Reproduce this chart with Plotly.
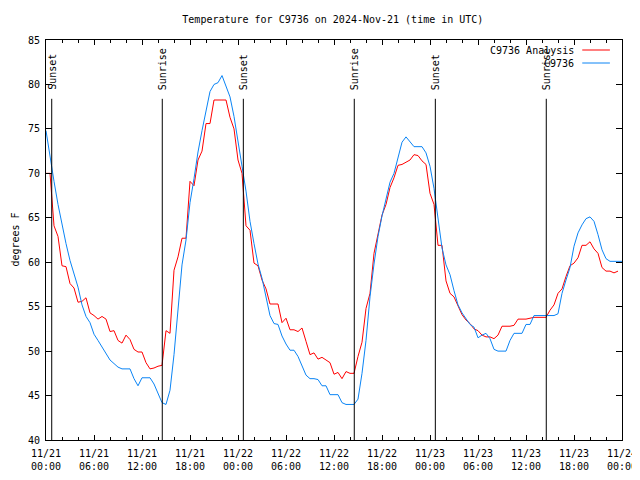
import pandas as pd
import plotly.graph_objects as go

# ---- data ----
start_time = "2024-11-21 00:00"
step = "30min"

obs_temp = [
    74.8, 71.8, 69.1, 66.5, 64.1, 62.1, 60.2, 58.6, 57.2, 55.2,
    53.9, 53.2, 51.9, 51.2, 50.5, 49.8, 49.0, 48.6, 48.2, 48.0,
    48.0, 48.0, 46.9, 46.1, 47.0, 47.0, 47.0, 46.3, 45.3, 44.2,
    44.0, 45.6, 49.6, 55.0, 59.7, 62.5, 66.7, 69.4, 72.4, 74.8,
    77.1, 79.2, 80.0, 80.2, 81.0, 79.7, 78.6, 76.4, 73.4, 70.8,
    68.0, 64.6, 62.1, 59.8, 58.2, 56.1, 54.0, 53.1, 53.0, 51.7,
    50.8, 50.1, 50.1, 49.4, 48.3, 47.3, 46.9, 46.9, 46.8, 46.1,
    46.1, 45.1, 45.1, 45.1, 44.2, 44.0, 44.0, 44.0, 44.6, 47.5,
    51.2, 56.1, 59.8, 62.9, 65.2, 67.0, 69.0, 70.0, 71.9, 73.5,
    74.1, 73.6, 73.0, 73.0, 73.0, 72.3, 70.8, 68.3, 64.8, 61.6,
    59.7, 58.6, 56.8, 55.2, 54.3, 53.6, 53.0, 52.7, 51.5, 51.8,
    52.0, 51.4, 50.2, 50.0, 50.0, 50.0, 51.2, 52.0, 52.0, 52.0,
    53.0, 53.0, 54.0, 54.0, 54.0, 54.0, 54.0, 54.0, 54.2, 56.5,
    58.0, 59.4, 61.8, 63.3, 64.2, 64.9, 65.1, 64.6, 63.1, 61.4,
    60.4, 60.1, 60.1, 60.1, 60.1,
]

analysis_temp = [
    70.0, 70.0, 64.1, 62.9, 59.6, 59.5, 57.6, 57.1, 55.5, 55.6,
    56.0, 54.3, 54.0, 53.6, 53.9, 53.6, 52.2, 52.3, 51.2, 50.9,
    51.8, 51.3, 50.2, 49.9, 49.9, 48.7, 48.0, 48.1, 48.3, 48.4,
    52.3, 52.0, 59.1, 60.6, 62.7, 62.7, 69.1, 68.6, 71.5, 72.5,
    75.6, 75.6, 78.25, 78.25, 78.25, 78.25, 76.3, 75.0, 71.5, 70.0,
    64.1, 63.6, 59.9, 59.6, 58.0, 57.0, 55.3, 55.3, 55.3, 53.2,
    53.7, 52.4, 52.4, 52.2, 52.6, 51.1, 49.6, 49.8, 49.1, 49.3,
    49.0, 48.7, 47.4, 47.6, 46.9, 47.7, 47.5, 47.5, 49.4, 51.0,
    54.8, 56.5, 61.0, 63.0, 65.3, 66.5, 68.4, 69.5, 70.9, 71.0,
    71.3, 71.5, 72.1, 72.0, 71.4, 71.0, 67.75, 66.5, 61.9, 61.9,
    57.9, 56.5, 56.1, 55.0, 54.1, 53.5, 53.1, 52.5, 52.3, 51.8,
    51.6, 51.6, 51.4, 51.8, 52.8, 52.8, 52.8, 52.9, 53.6, 53.6,
    53.6, 53.7, 53.8, 53.8, 53.8, 53.8, 54.6, 55.2, 56.5, 57.0,
    58.4, 59.6, 59.9, 60.5, 61.9, 61.9, 62.3, 61.5, 61.0, 59.4,
    59.0, 59.0, 58.8, 59.0,
]

sun_labels = ["Sunset", "Sunrise", "Sunset", "Sunrise", "Sunset", "Sunrise"]
sun_times = ["2024-11-21 00:43", "2024-11-21 14:32", "2024-11-22 00:40",
             "2024-11-22 14:32", "2024-11-23 00:40", "2024-11-23 14:32"]

tick_times = pd.date_range("2024-11-21 00:00", "2024-11-24 00:00", freq="6h")
tick_labels = [
    "11/21<br>00:00", "11/21<br>06:00", "11/21<br>12:00", "11/21<br>18:00",
    "11/22<br>00:00", "11/22<br>06:00", "11/22<br>12:00", "11/22<br>18:00",
    "11/23<br>00:00", "11/23<br>06:00", "11/23<br>12:00", "11/23<br>18:00",
    "11/24<br>00:00",
]

series_names = ["C9736 Analysis", "C9736"]
series_colors = ["#ff0000", "#0a84f5"]

# ---- figure ----
FONT = "DejaVu Sans Mono"
t_obs = pd.date_range(start_time, periods=len(obs_temp), freq=step)
t_ana = pd.date_range(start_time, periods=len(analysis_temp), freq=step)

fig = go.Figure()
fig.add_trace(go.Scatter(x=t_ana, y=analysis_temp, mode="lines", name=series_names[0],
                         line=dict(color=series_colors[0], width=1)))
fig.add_trace(go.Scatter(x=t_obs, y=obs_temp, mode="lines", name=series_names[1],
                         line=dict(color=series_colors[1], width=1)))

for lab, tm in zip(sun_labels, sun_times):
    fig.add_shape(type="line", xref="x", yref="paper", x0=tm, x1=tm, y0=0, y1=0.853,
                  line=dict(color="black", width=1))
    fig.add_annotation(x=tm, xref="x", y=0.87, yref="paper", text=lab, textangle=-90,
                       showarrow=False, xanchor="center", yanchor="bottom",
                       font=dict(family=FONT, size=10, color="black"))

# custom gnuplot-style key (text then line sample)
key_y = [0.975, 0.9425]
for name, col, ky in zip(series_names, series_colors, key_y):
    fig.add_annotation(x=0.920, xref="paper", y=ky, yref="paper", text=name,
                       showarrow=False, xanchor="right", yanchor="middle",
                       font=dict(family=FONT, size=10, color="black"))
    fig.add_shape(type="line", xref="paper", yref="paper", x0=0.931, x1=0.979,
                  y0=ky, y1=ky, line=dict(color=col, width=1))

fig.add_annotation(x=-0.0545, xref="paper", y=0.5, yref="paper", text="degrees F",
                   textangle=-90, showarrow=False, xanchor="center", yanchor="middle",
                   font=dict(family=FONT, size=10, color="black"))

# page has an 8px body margin: size the figure so it fits the 640x480 window
fig.update_layout(
    width=632, height=464,
    margin=dict(l=38, r=18, t=32, b=32, autoexpand=False),
    paper_bgcolor="white", plot_bgcolor="white",
    showlegend=False,
    font=dict(family=FONT, size=10, color="black"),
    title=dict(text="Temperature for C9736 on 2024-Nov-21 (time in UTC)",
               xref="paper", x=0.498, xanchor="center",
               yref="container", y=1 - 11 / 464, yanchor="middle",
               font=dict(family=FONT, size=10, color="black")),
)
fig.update_xaxes(
    range=["2024-11-21 00:00", "2024-11-24 00:00"],
    tickvals=tick_times, ticktext=tick_labels,
    ticks="inside", ticklen=5, tickcolor="black",
    minor=dict(dtick=2 * 3600 * 1000, ticks="inside", ticklen=3, tickcolor="black"),
    showline=True, linecolor="black", linewidth=1, mirror="allticks",
    showgrid=False, zeroline=False, automargin=False, ticklabelstandoff=4,
    ticklabeloverflow="allow",
    tickfont=dict(family=FONT, size=10, color="black"),
)
fig.update_yaxes(
    range=[40, 85], dtick=5, tick0=40,
    ticks="inside", ticklen=6, tickcolor="black",
    showline=True, linecolor="black", linewidth=1, mirror="allticks",
    showgrid=False, zeroline=False, automargin=False, ticklabelstandoff=3,
    tickfont=dict(family=FONT, size=10, color="black"),
)

fig.write_html(
    "out.html",
    post_script="document.documentElement.style.overflow='hidden';"
                "document.body.style.overflow='hidden';",
)
